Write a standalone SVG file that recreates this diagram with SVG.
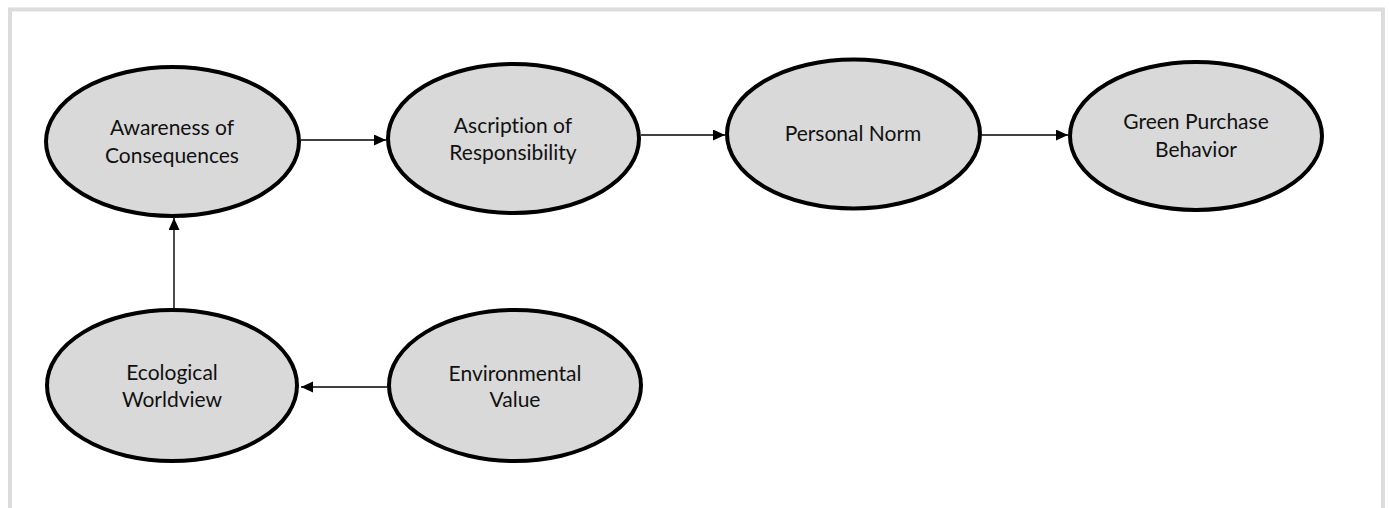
<svg xmlns="http://www.w3.org/2000/svg" width="1389" height="508" viewBox="0 0 1389 508">
<style>
.node{fill:#d9d9d9;stroke:#000;stroke-width:4}
.lbl{font-family:Lato,"Open Sans","Liberation Sans",sans-serif;font-size:21px;fill:#111;text-anchor:middle;font-variant-ligatures:none}
.edge{stroke:#000;stroke-width:1.4;fill:none;marker-end:url(#ah)}
</style>
<defs>
<marker id="ah" markerUnits="userSpaceOnUse" markerWidth="14" markerHeight="12" refX="12" refY="5.5" orient="auto">
<path d="M0,0 L12,5.5 L0,11 Z" fill="#000"/>
</marker>
</defs>
<rect width="1389" height="508" fill="#fff"/>
<path d="M10,512 V9.5 H1383 V512" fill="none" stroke="#dcdcdc" stroke-width="4"/>
<g id="connectors">
<line class="edge" x1="301" y1="140" x2="386" y2="140"/>
<line class="edge" x1="641" y1="135" x2="725" y2="135"/>
<line class="edge" x1="982" y1="135" x2="1068" y2="135"/>
<line class="edge" x1="387" y1="387" x2="301" y2="387"/>
<line class="edge" x1="174" y1="308" x2="174" y2="218"/>
</g>
<g id="awareness">
<ellipse class="node" cx="172.5" cy="141.5" rx="126.5" ry="74.5"/>
<text class="lbl" x="172" y="135">Awareness of</text>
<text class="lbl" x="172" y="163">Consequences</text>
</g>
<g id="ascription">
<ellipse class="node" cx="513.5" cy="138.5" rx="125.5" ry="74.5"/>
<text class="lbl" x="513" y="133">Ascription of</text>
<text class="lbl" x="513" y="160">Responsibility</text>
</g>
<g id="personal-norm">
<ellipse class="node" cx="853.5" cy="134" rx="126.5" ry="74.5"/>
<text class="lbl" x="853" y="141">Personal Norm</text>
</g>
<g id="green-purchase">
<ellipse class="node" cx="1196" cy="136" rx="126" ry="74"/>
<text class="lbl" x="1196" y="129">Green Purchase</text>
<text class="lbl" x="1196" y="157">Behavior</text>
</g>
<g id="ecological">
<ellipse class="node" cx="172" cy="385.5" rx="125" ry="75.5"/>
<text class="lbl" x="172" y="380">Ecological</text>
<text class="lbl" x="172" y="407">Worldview</text>
</g>
<g id="environmental">
<ellipse class="node" cx="515" cy="385.5" rx="126" ry="75.5"/>
<text class="lbl" x="515" y="381">Environmental</text>
<text class="lbl" x="515" y="407">Value</text>
</g>
</svg>
